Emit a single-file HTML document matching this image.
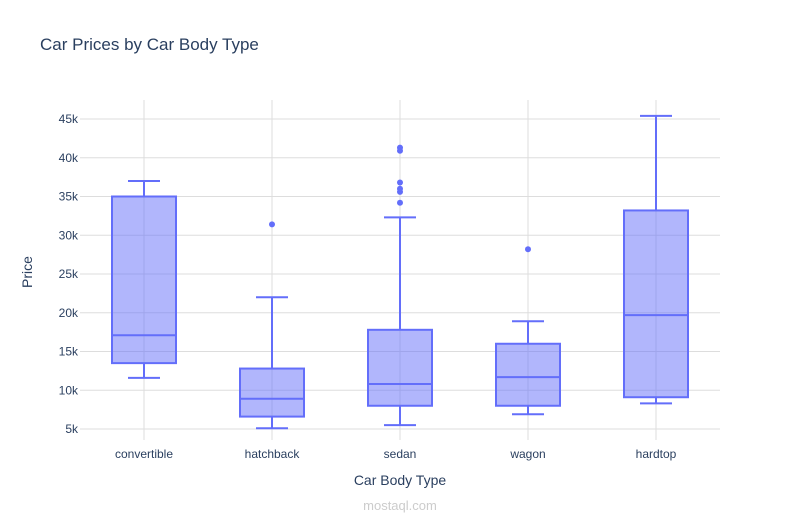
<!DOCTYPE html>
<html><head><meta charset="utf-8"><style>
body{margin:0;background:#fff;}
svg text{font-family:"Liberation Sans","Noto Sans CJK SC",sans-serif;}
</style></head><body>
<svg id="chart" width="801" height="525">
<rect width="801" height="525" fill="#fff"/>
<text x="40" y="50" font-size="17" fill="#2a3f5f">Car Prices by Car Body Type</text>
<g id="grid"></g>
<g id="boxes"></g>
<text x="400" y="485" font-size="14" fill="#2a3f5f" text-anchor="middle">Car Body Type</text>
<text transform="translate(32,272) rotate(-90)" font-size="14" fill="#2a3f5f" text-anchor="middle">Price</text>
<text x="400" y="510" font-size="13" fill="#ccc" text-anchor="middle">mostaql.com</text>
</svg>
<script>
const categories=["convertible","hatchback","sedan","wagon","hardtop"];
const lowerFence=[11600,5100,5500,6900,8300];
const q1=[13500,6600,8000,8000,9100];
const medians=[17100,8900,10800,11700,19700];
const q3=[35000,12800,17800,16000,33200];
const upperFence=[37000,22000,32300,18900,45400];
const outliers=[[],[31400],[34200,35600,36000,36800,40900,41300],[28200],[]];
const yTicks=[5000,10000,15000,20000,25000,30000,35000,40000,45000];
const yTickLabels=["5k","10k","15k","20k","25k","30k","35k","40k","45k"];

const ns="http://www.w3.org/2000/svg";
const L=80,R=720,T=100,B=440;
const y=v=>429-(v-5000)*0.00775;
const band=(R-L)/categories.length;
const x=i=>L+band*(i+0.5);
function mk(tag,attrs,parent){const e=document.createElementNS(ns,tag);for(const k in attrs)e.setAttribute(k,attrs[k]);parent.appendChild(e);return e;}
const grid=document.getElementById('grid');
yTicks.forEach((t,i)=>{
  const l=mk('line',{x1:L,x2:R,y1:y(t),y2:y(t),stroke:'#ddd','stroke-width':1},grid);
  
  
  const tx=mk('text',{x:L-2,y:y(t)+4,'font-size':12,fill:'#2a3f5f','text-anchor':'end'},grid);
  tx.textContent=yTickLabels[i];
  
  
});
categories.forEach((c,i)=>{
  const l=mk('line',{x1:x(i),x2:x(i),y1:T,y2:B,stroke:'#ddd','stroke-width':1},grid);
  
  
  const tx=mk('text',{x:x(i),y:458,'font-size':12,fill:'#2a3f5f','text-anchor':'middle'},grid);
  tx.textContent=c;
  
  
});
const boxes=document.getElementById('boxes');
const col='#636efa',bw=64,cw=32;
categories.forEach((c,i)=>{
  const g=mk('g',{},boxes);
  
  
  const cx=x(i);
  mk('line',{x1:cx,x2:cx,y1:y(q3[i]),y2:y(upperFence[i]),stroke:col,'stroke-width':2},g);
  mk('line',{x1:cx,x2:cx,y1:y(q1[i]),y2:y(lowerFence[i]),stroke:col,'stroke-width':2},g);
  mk('line',{x1:cx-cw/2,x2:cx+cw/2,y1:y(upperFence[i]),y2:y(upperFence[i]),stroke:col,'stroke-width':2},g);
  mk('line',{x1:cx-cw/2,x2:cx+cw/2,y1:y(lowerFence[i]),y2:y(lowerFence[i]),stroke:col,'stroke-width':2},g);
  mk('rect',{x:cx-bw/2,y:y(q3[i]),width:bw,height:y(q1[i])-y(q3[i]),fill:'rgba(99,110,250,0.5)',stroke:col,'stroke-width':2},g);
  mk('line',{x1:cx-bw/2,x2:cx+bw/2,y1:y(medians[i]),y2:y(medians[i]),stroke:col,'stroke-width':2},g);
  outliers[i].forEach(v=>{
    const p=mk('circle',{cx:cx,cy:y(v),r:3,fill:col},g);
    
    
  });
});
</script>
</body></html>
